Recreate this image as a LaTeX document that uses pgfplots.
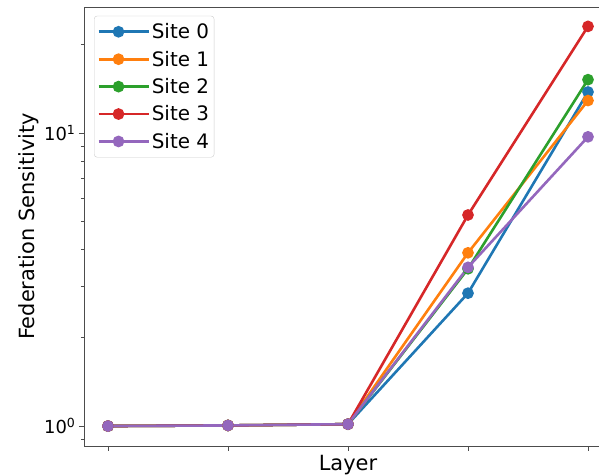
\documentclass[border=0pt]{standalone}
\usepackage{pgfplots}
\pgfplotsset{compat=1.18}
\usepackage{fontspec}
\setmainfont{DejaVu Sans}
\definecolor{c0}{HTML}{1F77B4}
\definecolor{c1}{HTML}{FF7F0E}
\definecolor{c2}{HTML}{2CA02C}
\definecolor{c3}{HTML}{D62728}
\definecolor{c4}{HTML}{9467BD}
\begin{document}
\begin{tikzpicture}
\useasboundingbox (-84bp,-30bp) rectangle (515bp,446bp);
\clip (-84bp,-30bp) rectangle (515bp,446bp);
\begin{axis}[
  at={(0,0)}, anchor=south west,
  scale only axis,
  width=528bp, height=439bp,
  ymode=log,
  xmin=-0.2, xmax=4.2,
  ymin=0.855, ymax=26.9,
  axis x line=box, axis y line=left,
  xtick pos=bottom, ytick pos=left,
  xtick={0,1,2,3,4}, xticklabels={},
  ytick={1,10}, yticklabels={10\textsuperscript{0},10\textsuperscript{1}},
  minor ytick={0.9,2,3,4,5,6,7,8,9,20},
  tick align=outside,
  major tick length=5bp, minor tick length=3bp,
  tick style={black!70, line width=0.8bp},
  axis line style={black!70, line width=0.8bp, -},
  tick label style={font=\fontsize{18}{21}\selectfont},
  xlabel={Layer}, ylabel={Federation Sensitivity},
  label style={font=\fontsize{21}{25}\selectfont},
  xlabel style={at={(axis description cs:0.5,0)}, anchor=north, yshift=-6bp},
  ylabel style={at={(axis description cs:0,0.5)}, anchor=south, yshift=42bp},
  legend style={font=\fontsize{20}{23}\selectfont, draw=black!20, rounded corners=3bp,
    at={(0.019,0.98)}, anchor=north west, row sep=6.8bp, inner xsep=3bp, inner ysep=5.5bp},
  legend cell align=left,
  legend image code/.code={
    \draw[mark repeat=2,mark phase=2,#1] plot coordinates {(0bp,0bp) (20bp,0bp) (40bp,0bp)};
    \path (40bp,0bp) -- (50bp,0bp);
  },
  every axis plot/.append style={line width=2.6bp, mark=*, mark size=4.5bp},
]
\addplot[c0, mark options={fill=c0, draw=c0}] coordinates {(0,1.0) (1,1.005) (2,1.015) (3,2.84) (4,13.8)};
\addlegendentry{Site 0}
\addplot[c1, mark options={fill=c1, draw=c1}] coordinates {(0,1.0) (1,1.005) (2,1.015) (3,3.90) (4,12.9)};
\addlegendentry{Site 1}
\addplot[c2, mark options={fill=c2, draw=c2}] coordinates {(0,1.0) (1,1.005) (2,1.015) (3,3.44) (4,15.2)};
\addlegendentry{Site 2}
\addplot[c3, mark options={fill=c3, draw=c3}] coordinates {(0,1.0) (1,1.005) (2,1.015) (3,5.25) (4,23.1)};
\addlegendentry{Site 3}
\addplot[c4, mark options={fill=c4, draw=c4}] coordinates {(0,1.0) (1,1.005) (2,1.015) (3,3.48) (4,9.7)};
\addlegendentry{Site 4}
\end{axis}
\end{tikzpicture}
\end{document}
